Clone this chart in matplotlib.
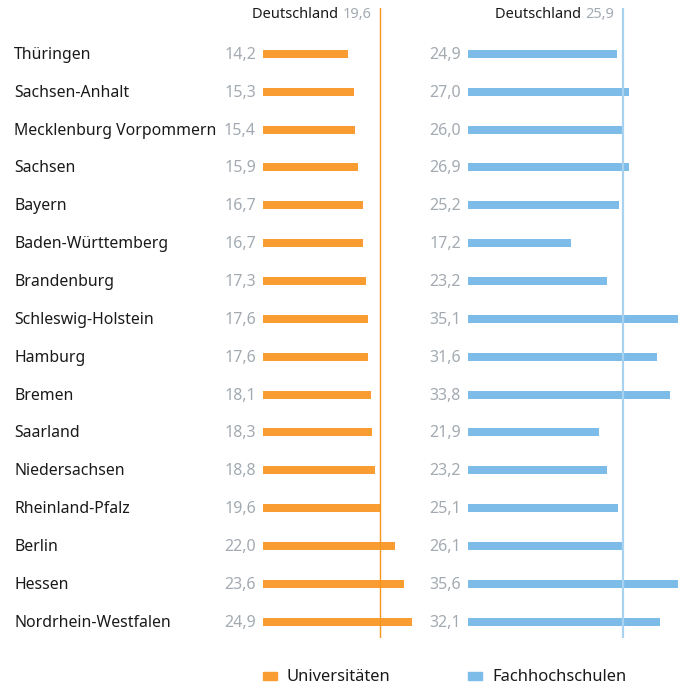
import matplotlib
matplotlib.use('Agg')
import matplotlib.pyplot as plt
import matplotlib.patches as mpatches
from matplotlib.transforms import blended_transform_factory, offset_copy

plt.rcParams['font.family'] = ['Noto Sans', 'DejaVu Sans']

# Data
states = ['Thüringen', 'Sachsen-Anhalt', 'Mecklenburg Vorpommern', 'Sachsen', 'Bayern',
          'Baden-Württemberg', 'Brandenburg', 'Schleswig-Holstein', 'Hamburg', 'Bremen',
          'Saarland', 'Niedersachsen', 'Rheinland-Pfalz', 'Berlin', 'Hessen',
          'Nordrhein-Westfalen']
uni = [14.2, 15.3, 15.4, 15.9, 16.7, 16.7, 17.3, 17.6, 17.6, 18.1, 18.3, 18.8, 19.6, 22.0, 23.6, 24.9]
fh = [24.9, 27.0, 26.0, 26.9, 25.2, 17.2, 23.2, 35.1, 31.6, 33.8, 21.9, 23.2, 25.1, 26.1, 35.6, 32.1]
uni_avg = 19.6
fh_avg = 25.9
legend_labels = ['Universitäten', 'Fachhochschulen']

orange = '#F99D33'
orange_line = '#F7941D'
blue = '#7DBCE8'
blue_line = '#A8D2F0'
grey = '#A3AAB2'
dark = '#1A1A1A'

W, H = 678, 684
fig = plt.figure(figsize=(W / 100, H / 100), dpi=100)
fig.patch.set_facecolor('white')

px = 5.98  # pixels per unit
top_px, bot_px = 8, 638
row0, rowstep = 53.8, 37.87
ytop = -(row0 - top_px) / rowstep
ybot = 15 + (bot_px - (row0 + 15 * rowstep)) / rowstep


def make_ax(x0, x1):
    ax = fig.add_axes([x0 / W, (H - bot_px) / H, (x1 - x0) / W, (bot_px - top_px) / H])
    ax.set_xlim(0, (x1 - x0) / px)
    ax.set_ylim(ybot, ytop)
    ax.axis('off')
    return ax


ax1 = make_ax(263, 450)
ax2 = make_ax(468, 678)

ypos = list(range(len(states)))
bar_h = 8 / rowstep

ax1.barh(ypos, uni, height=bar_h, color=orange, left=0)
ax2.barh(ypos, fh, height=bar_h, color=blue, left=0)
ax1.axvline(uni_avg, color=orange_line, lw=1.0)
ax2.axvline(fh_avg, color=blue_line, lw=1.6)

off = 7 / px
for ax, vals in ((ax1, uni), (ax2, fh)):
    tr_v = offset_copy(ax.transData, fig=fig, x=0, y=-1, units='dots')
    for y, v in zip(ypos, vals):
        ax.text(-off, y, f'{v:.1f}'.replace('.', ','), ha='right', va='center',
                fontsize=11.5, color=grey, clip_on=False, transform=tr_v)

# header labels
for ax, avg in ((ax1, uni_avg), (ax2, fh_avg)):
    t = ax.text(avg - 9 / px, ytop + 6 / rowstep, f'{avg:.1f}'.replace('.', ','),
                ha='right', va='center', fontsize=10.5, color=grey, clip_on=False)
    ax.annotate('Deutschland ', xy=(0, 0.5), xycoords=t, ha='right', va='center',
                fontsize=10.5, color=dark)

# state names
tr = offset_copy(blended_transform_factory(fig.transFigure, ax1.transData),
                 fig=fig, x=0, y=-1, units='dots')
for y, s in zip(ypos, states):
    fig.text(14 / W, y, s, transform=tr, ha='left', va='center', fontsize=11.4, color=dark)

# legend
for x, c, lab in ((263, orange, legend_labels[0]), (468, blue, legend_labels[1])):
    fig.patches.append(mpatches.Rectangle((x / W, (H - 680) / H), 14 / W, 8 / H,
                                          color=c, transform=fig.transFigure))
    fig.text((x + 24) / W, (H - 677) / H, lab, ha='left', va='center',
             fontsize=11.9, color=dark)

fig.savefig('out.png', dpi=100, facecolor='white')
